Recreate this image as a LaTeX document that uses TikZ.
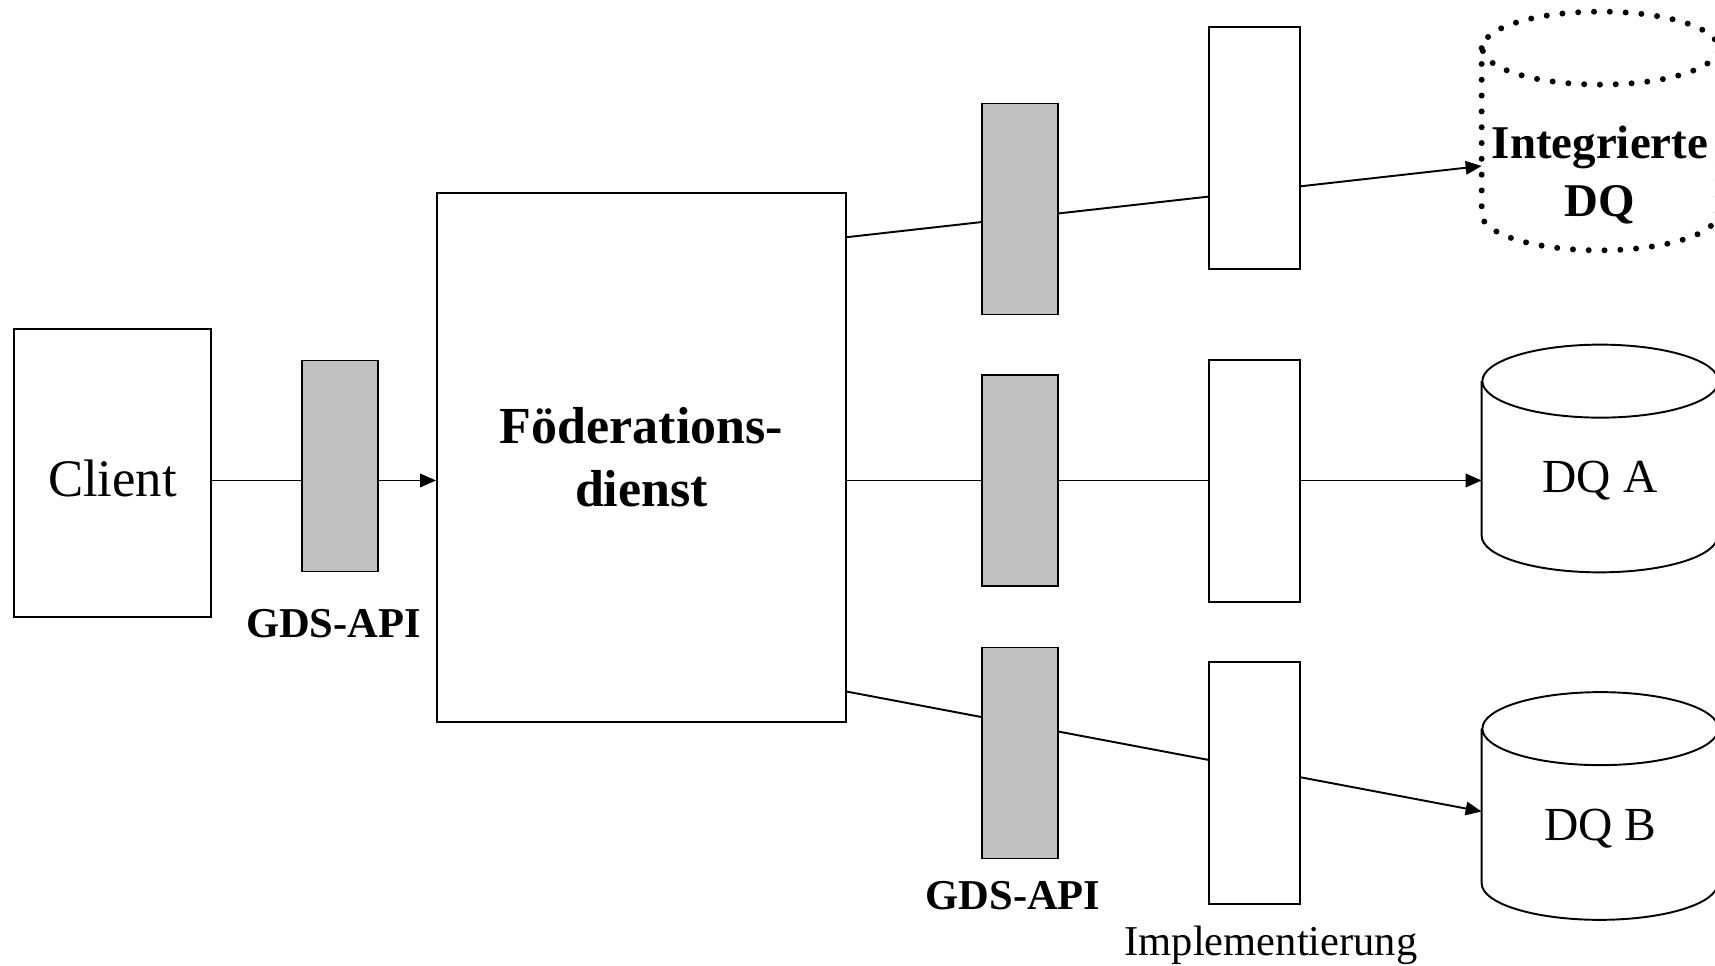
\documentclass[tikz,border=0pt]{standalone}
\usepackage{fontspec}
\setmainfont{Liberation Serif}
\usetikzlibrary{arrows.meta,backgrounds,calc,positioning}
\definecolor{apigray}{HTML}{C0C0C0}
\tikzset{
  box/.style={rectangle,draw=black,fill=white,line width=1.1pt,inner sep=0pt},
  clientbox/.style={box,minimum width=3.94cm,minimum height=5.76cm,text height=26.5pt,font=\fontsize{30}{36}\selectfont},
  foedbox/.style={box,minimum width=8.18cm,minimum height=10.58cm,align=center,font=\bfseries\fontsize{29.6}{40}\selectfont},
  api/.style={box,fill=apigray,minimum width=1.52cm,minimum height=4.22cm},
  impl/.style={box,minimum width=1.82cm,minimum height=4.84cm},
  zylbox/.style={rectangle,inner sep=0pt,minimum width=4.72cm,minimum height=4.54cm},
  zyltext/.style={inner sep=0pt,align=center,font=\fontsize{27}{33}\selectfont},
  apilabel/.style={inner sep=0pt,font=\bfseries\fontsize{24.2}{29}\selectfont},
  impllabel/.style={inner sep=0pt,font=\fontsize{24.2}{29}\selectfont},
  verbindung/.style={draw=black,line width=1.1pt,-{Triangle[length=3.2mm,width=2.7mm]}},
  gepunktet/.style={line width=3.4pt,line cap=round,dash pattern=on 0pt off 9pt},
}
% Zylinder um einen Knoten: #1 = Linienstil, #2 = Knotenname
\newcommand{\zyl}[2][]{%
  \draw[line width=1.1pt,#1] ([yshift=-7.3mm]#2.north west) -- ([yshift=7.3mm]#2.south west)
    arc[start angle=180,end angle=360,x radius=23.6mm,y radius=7.3mm]
    -- ([yshift=-7.3mm]#2.north east)
    arc[start angle=0,end angle=360,x radius=23.6mm,y radius=7.3mm];}

\begin{document}
\begin{tikzpicture}
  \useasboundingbox (0,0) rectangle (34.3,19.32);
  \node[clientbox] (client) at (2.25,9.86) {Client};
  \node[api] (api0) at (6.80,10.00) {};
  \node[foedbox] (foed) at (12.83,10.17) {\raisebox{-1.5mm}{Föderations-}\\dienst};
  \node[api] (api1) at (20.40,15.14) {};
  \node[api] (api2) at (20.40,9.71) {};
  \node[api] (api3) at (20.40,4.26) {};
  \node[impl] (impl1) at (25.09,16.36) {};
  \node[impl] (impl2) at (25.09,9.70) {};
  \node[impl] (impl3) at (25.09,3.66) {};
  % Datenquellen
  \node[zylbox,minimum height=4.76cm] (integ) at (32.0,16.70) {};
  \node[zylbox] (dqa) at (32.0,10.15) {};
  \node[zylbox] (dqb) at (32.0,3.20) {};
  \zyl[gepunktet]{integ}
  \zyl{dqa}
  \zyl{dqb}
  \node[zyltext,font=\bfseries\fontsize{26.7}{33}\selectfont] (integtxt) at ([yshift=-8.9mm]integ.center) {Integrierte\\DQ};
  \node[zyltext] (dqatxt) at ([yshift=-4.4mm]dqa.center) {DQ A};
  \node[zyltext] (dqbtxt) at ([yshift=-4.5mm]dqb.center) {DQ B};
  % Beschriftungen
  \node[apilabel,below=7.4mm of api0,xshift=-1.3mm] (gds0) {GDS-API};
  \node[apilabel,below=4.4mm of api3,xshift=-1.4mm] (gds3) {GDS-API};
  \node[impllabel,below=4.2mm of impl3,xshift=3.3mm] (impltxt) {Implementierung};
  % Verbindungen
  \begin{scope}[on background layer]
    \draw[verbindung] (client.east |- api2) -- (foed.west |- api2);
    \draw[verbindung] ($(foed.north east)!.085!(foed.south east)$) -- ([yshift=-7mm]integ.west);
    \draw[verbindung] (foed.east |- api2) -- (dqa.west |- api2);
    \draw[verbindung] ($(foed.north east)!.941!(foed.south east)$) -- ([yshift=-1.1mm]dqb.west);
  \end{scope}
\end{tikzpicture}
\end{document}
